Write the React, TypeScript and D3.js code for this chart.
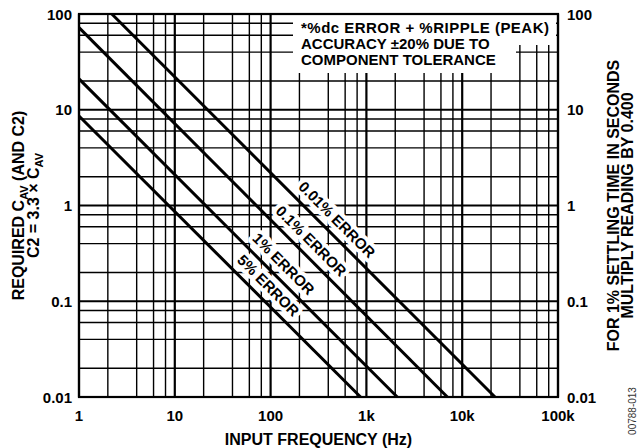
import * as d3 from 'd3';
import React, { useEffect, useRef } from 'react';

const freqTicks = [1, 10, 100, 1000, 10000, 100000];
const freqTickLabels = ['1', '10', '100', '1k', '10k', '100k'];
const capTicks = [0.01, 0.1, 1, 10, 100];
const capTickLabels = ['0.01', '0.1', '1', '10', '100'];
const minorSteps = [2, 4, 6, 8];

const seriesNames = ['0.01% ERROR', '0.1% ERROR', '1% ERROR', '5% ERROR'];
const startFreq = [2.2, 1, 1, 1];
const startCap = [100, 72, 21, 8.6];
const endFreq = [22000, 7000, 2100, 870];
const endCap = [0.01, 0.01, 0.01, 0.01];
const labelFreq = [390, 210, 108, 75];

const noteLines = ['*%dc ERROR + %RIPPLE (PEAK)', 'ACCURACY \u00B120% DUE TO', 'COMPONENT TOLERANCE'];

const FONT = 'Liberation Sans, Arial, Helvetica, sans-serif';

function App() {
  const svgRef = useRef<SVGSVGElement>(null);

  useEffect(() => {
    const w = 640;
    const h = 448;
    const svg = d3.select(svgRef.current).attr('width', w).attr('height', h);
    svg.selectAll('*').remove();

    const x = d3.scaleLog().domain([1, 100000]).range([79, 558]);
    const y = d3.scaleLog().domain([0.01, 100]).range([397, 14]);

    const xMinor: number[] = [];
    freqTicks.slice(0, -1).forEach((d) => minorSteps.forEach((m) => xMinor.push(d * m)));
    const yMinor: number[] = [];
    capTicks.slice(0, -1).forEach((d) => minorSteps.forEach((m) => yMinor.push(d * m)));

    const grid = svg.append('g').attr('stroke', '#000');
    grid
      .selectAll('.vminor')
      .data(xMinor)
      .join('line')
      .attr('x1', (d) => x(d))
      .attr('x2', (d) => x(d))
      .attr('y1', y(0.01))
      .attr('y2', y(100))
      .attr('stroke-width', 1.4);
    grid
      .selectAll('.hminor')
      .data(yMinor)
      .join('line')
      .attr('y1', (d) => y(d))
      .attr('y2', (d) => y(d))
      .attr('x1', x(1))
      .attr('x2', x(100000))
      .attr('stroke-width', 1.4);
    grid
      .selectAll('.vmajor')
      .data(freqTicks)
      .join('line')
      .attr('x1', (d) => x(d))
      .attr('x2', (d) => x(d))
      .attr('y1', y(0.01))
      .attr('y2', y(100))
      .attr('stroke-width', 2.2);
    grid
      .selectAll('.hmajor')
      .data(capTicks)
      .join('line')
      .attr('y1', (d) => y(d))
      .attr('y2', (d) => y(d))
      .attr('x1', x(1))
      .attr('x2', x(100000))
      .attr('stroke-width', 2.2);

    // white area behind the note
    svg.append('rect').attr('x', 293).attr('y', 15).attr('width', 263).attr('height', 30).attr('fill', '#fff');
    svg.append('rect').attr('x', 293).attr('y', 44).attr('width', 223).attr('height', 29).attr('fill', '#fff');

    svg
      .append('g')
      .selectAll('text')
      .data(noteLines)
      .join('text')
      .attr('x', 301)
      .attr('y', (d, i) => 33 + i * 16)
      .attr('font-family', FONT)
      .attr('font-weight', 'bold')
      .attr('font-size', 15)
      .attr('textLength', (d, i) => (i === 0 ? 248 : null))
      .text((d) => d);

    // error curves
    const line = d3
      .line<[number, number]>()
      .x((d) => x(d[0]))
      .y((d) => y(d[1]));
    svg
      .append('g')
      .selectAll('path')
      .data(seriesNames.map((n, i) => [[startFreq[i], startCap[i]], [endFreq[i], endCap[i]]] as [number, number][]))
      .join('path')
      .attr('d', (d) => line(d))
      .attr('fill', 'none')
      .attr('stroke', '#000')
      .attr('stroke-width', 3);

    // labels along the curves
    const off = 14;
    svg
      .append('g')
      .selectAll('text')
      .data(seriesNames)
      .join('text')
      .attr('transform', (d, i) => {
        const f = labelFreq[i];
        const t = Math.log(f / startFreq[i]) / Math.log(endFreq[i] / startFreq[i]);
        const c = Math.exp(Math.log(startCap[i]) + t * (Math.log(endCap[i]) - Math.log(startCap[i])));
        const px = x(f) + off / Math.SQRT2;
        const py = y(c) - off / Math.SQRT2;
        return `translate(${px},${py}) rotate(45)`;
      })
      .attr('text-anchor', 'middle')
      .attr('dominant-baseline', 'central')
      .attr('font-family', FONT)
      .attr('font-weight', 'bold')
      .attr('font-size', 15)
      .attr('stroke', '#fff')
      .attr('stroke-width', 8)
      .attr('stroke-linejoin', 'round')
      .attr('paint-order', 'stroke')
      .attr('fill', '#000')
      .text((d) => d);

    // frame
    svg
      .append('rect')
      .attr('x', x(1))
      .attr('y', y(100))
      .attr('width', x(100000) - x(1))
      .attr('height', y(0.01) - y(100))
      .attr('fill', 'none')
      .attr('stroke', '#000')
      .attr('stroke-width', 2.2);

    const labels = svg
      .append('g')
      .attr('font-family', FONT)
      .attr('font-weight', 'bold')
      .attr('font-size', 15);
    labels
      .selectAll('.yl')
      .data(capTicks)
      .join('text')
      .attr('x', 72)
      .attr('y', (d) => y(d))
      .attr('text-anchor', 'end')
      .attr('dominant-baseline', 'central')
      .text((d, i) => capTickLabels[i]);
    labels
      .selectAll('.yr')
      .data(capTicks)
      .join('text')
      .attr('x', 567)
      .attr('y', (d) => y(d))
      .attr('dominant-baseline', 'central')
      .text((d, i) => capTickLabels[i]);
    labels
      .selectAll('.xl')
      .data(freqTicks)
      .join('text')
      .attr('x', (d) => x(d))
      .attr('y', 421)
      .attr('text-anchor', 'middle')
      .text((d, i) => freqTickLabels[i]);

    const cy = (y(0.01) + y(100)) / 2;
    const titles = svg
      .append('g')
      .attr('font-family', FONT)
      .attr('font-weight', 'bold')
      .attr('font-size', 16)
      .attr('text-anchor', 'middle');
    titles
      .append('text')
      .attr('x', (x(1) + x(100000)) / 2)
      .attr('y', 445)
      .text('INPUT FREQUENCY (Hz)');

    const l1 = titles.append('text').attr('transform', `translate(24,${cy}) rotate(-90)`);
    l1.append('tspan').text('REQUIRED C');
    l1.append('tspan').attr('font-size', 11).attr('dy', 4).text('AV');
    l1.append('tspan').attr('dy', -4).text(' (AND C2)');
    const l2 = titles.append('text').attr('transform', `translate(39,${cy}) rotate(-90)`);
    l2.append('tspan').text('C2 = 3.3 \u00D7 C');
    l2.append('tspan').attr('font-size', 11).attr('dy', 4).text('AV');

    titles
      .append('text')
      .attr('transform', `translate(619,${cy}) rotate(-90)`)
      .text('FOR 1% SETTLING TIME IN SECONDS');
    titles
      .append('text')
      .attr('transform', `translate(633,${cy}) rotate(-90)`)
      .text('MULTIPLY READING BY 0.400');

    svg
      .append('text')
      .attr('transform', `translate(636,411) rotate(-90)`)
      .attr('text-anchor', 'middle')
      .attr('font-family', FONT)
      .attr('font-size', 10)
      .attr('fill', '#333')
      .text('00788-013');
  }, []);

  return (
    <div className="PlotXY">
      <svg ref={svgRef} style={{ position: 'absolute', left: 0, top: 0 }} />
    </div>
  );
}

export default App;
